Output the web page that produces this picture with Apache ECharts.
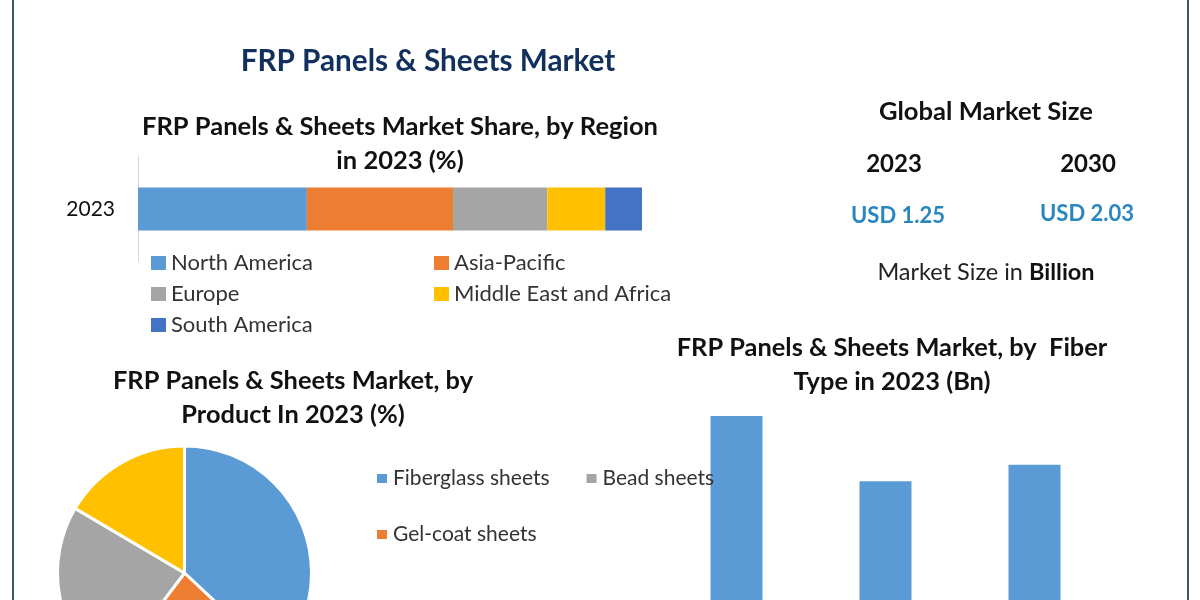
<!DOCTYPE html>
<html lang="en">

<head>
    <meta charset="UTF-8">
    <title>FRP Panels &amp; Sheets Market</title>
    <script src="https://cdn.jsdelivr.net/npm/echarts@6/dist/echarts.min.js"></script>
    <style>
        html, body { margin: 0; padding: 0; background: #fff; }
        #chart { width: 1200px; height: 600px; }
    </style>
</head>

<body>
    <div id="chart"></div>

    <script type="text/javascript">
        // regional share, stacked bar
        var regionYears = ['2023'];
        var regionNames = ['North America', 'Asia-Pacific', 'Europe', 'Middle East and Africa', 'South America'];
        var regionValues = [33.5, 29, 18.7, 11.5, 7.3];
        var regionColors = ['#5b9bd5', '#ed7d31', '#a5a5a5', '#ffc000', '#4472c4'];

        // product share, pie (the legend for the last slice is cut off in the picture)
        var productNames = ['Fiberglass sheets', 'Gel-coat sheets', 'Bead sheets', ''];
        var productValues = [37, 23.3, 23.2, 16.5];
        var productColors = ['#5b9bd5', '#ed7d31', '#a5a5a5', '#ffc000'];

        // fiber type, columns (category labels are below the edge of the picture)
        var fiberNames = ['Type 1', 'Type 2', 'Type 3'];
        var fiberValues = [0.48, 0.37, 0.398];
        // the picture stops before the baseline, so the hidden axis starts at the cut
        var fiberAxisMin = 0.17;
        var fiberAxisMax = 0.48;

        var fontName = 'Lato';
        var headColor = '#111111';

        function heading(text, x, y, size, color, weight) {
            return {
                text: text,
                left: x,
                top: y,
                padding: 0,
                textAlign: 'center',
                textVerticalAlign: 'middle',
                textStyle: {
                    fontFamily: fontName,
                    fontSize: size,
                    fontWeight: weight || 'bold',
                    color: color || headColor,
                    lineHeight: 34
                }
            };
        }

        var regionSeries = regionNames.map(function (name, i) {
            return {
                name: name,
                type: 'bar',
                stack: 'share',
                xAxisIndex: 0,
                yAxisIndex: 0,
                barWidth: 43,
                itemStyle: { color: regionColors[i] },
                data: [regionValues[i]]
            };
        });

        var legendText = { fontFamily: fontName, fontSize: 22, color: '#333333' };

        var option = {
            animation: false,
            backgroundColor: '#fff',
            title: [
                heading('FRP Panels & Sheets Market', 428, 61, 29.7, '#12305e'),
                heading('FRP Panels & Sheets Market Share, by Region\nin 2023 (%)', 400, 144, 25.5),
                heading('Global Market Size', 986, 112, 25.6),
                heading('2023', 894, 164, 24),
                heading('2030', 1088, 164, 24),
                heading('USD 1.25', 898, 216, 22, '#2a86bf'),
                heading('USD 2.03', 1087, 214, 22, '#2a86bf'),
                {
                    text: 'Market Size in {b|Billion}',
                    left: 986,
                    top: 272,
                    padding: 0,
                    textAlign: 'center',
                    textVerticalAlign: 'middle',
                    textStyle: {
                        fontFamily: fontName,
                        fontSize: 23.5,
                        fontWeight: 'normal',
                        color: '#222222',
                        rich: { b: { fontFamily: fontName, fontSize: 23.5, fontWeight: 'bold', color: '#111111' } }
                    }
                },
                heading('FRP Panels & Sheets Market, by\nProduct In 2023 (%)', 293, 398, 25.4),
                heading('FRP Panels & Sheets Market, by  Fiber\nType in 2023 (Bn)', 892, 365, 25.4)
            ],
            legend: [
                {
                    data: [regionNames[0], regionNames[2], regionNames[4]],
                    orient: 'vertical',
                    left: 151,
                    top: 252,
                    icon: 'rect',
                    itemWidth: 15,
                    itemHeight: 14,
                    itemGap: 9,
                    padding: 0,
                    textStyle: legendText
                },
                {
                    data: [regionNames[1], regionNames[3]],
                    orient: 'vertical',
                    left: 434,
                    top: 252,
                    icon: 'rect',
                    itemWidth: 15,
                    itemHeight: 14,
                    itemGap: 9,
                    padding: 0,
                    textStyle: legendText
                },
                {
                    data: productNames.slice(0, 3),
                    orient: 'vertical',
                    left: 375,
                    top: 468,
                    icon: 'rect',
                    itemWidth: 12,
                    itemHeight: 11,
                    itemGap: 35,
                    padding: 0,
                    textStyle: { fontFamily: fontName, fontSize: 21, color: '#333333' }
                }
            ],
            grid: [
                { left: 138, top: 156, width: 504, height: 106 },
                { left: 662, top: 416, width: 447, height: 184 }
            ],
            xAxis: [
                { type: 'value', gridIndex: 0, min: 0, max: 100, show: false },
                {
                    type: 'category',
                    gridIndex: 1,
                    data: fiberNames,
                    axisLine: { show: false },
                    axisLabel: { show: false },
                    axisTick: { show: false }
                }
            ],
            yAxis: [
                {
                    type: 'category',
                    gridIndex: 0,
                    data: regionYears,
                    axisLine: { lineStyle: { color: '#d9d9d9' } },
                    axisTick: { show: false },
                    axisLabel: { fontFamily: fontName, fontSize: 21, color: '#111111', margin: 23 }
                },
                { type: 'value', gridIndex: 1, min: fiberAxisMin, max: fiberAxisMax, show: false }
            ],
            series: regionSeries.concat([
                {
                    type: 'pie',
                    center: [184.5, 573],
                    radius: [0, 127],
                    startAngle: 90,
                    label: { show: false },
                    labelLine: { show: false },
                    itemStyle: { borderColor: '#fff', borderWidth: 3 },
                    data: productNames.map(function (name, i) {
                        return { name: name, value: productValues[i], itemStyle: { color: productColors[i] } };
                    })
                },
                {
                    type: 'bar',
                    xAxisIndex: 1,
                    yAxisIndex: 1,
                    barWidth: 52,
                    itemStyle: { color: '#5b9bd5' },
                    data: fiberValues
                }
            ]),
            graphic: [
                // frame lines at both sides of the picture
                { type: 'rect', shape: { x: 12, y: 0, width: 2, height: 600 }, style: { fill: '#34586e' } },
                { type: 'rect', shape: { x: 1187, y: 0, width: 2, height: 600 }, style: { fill: '#34586e' } }
            ]
        };

        var myChart = echarts.init(document.getElementById('chart'));
        myChart.setOption(option);
    </script>

</body>

</html>
